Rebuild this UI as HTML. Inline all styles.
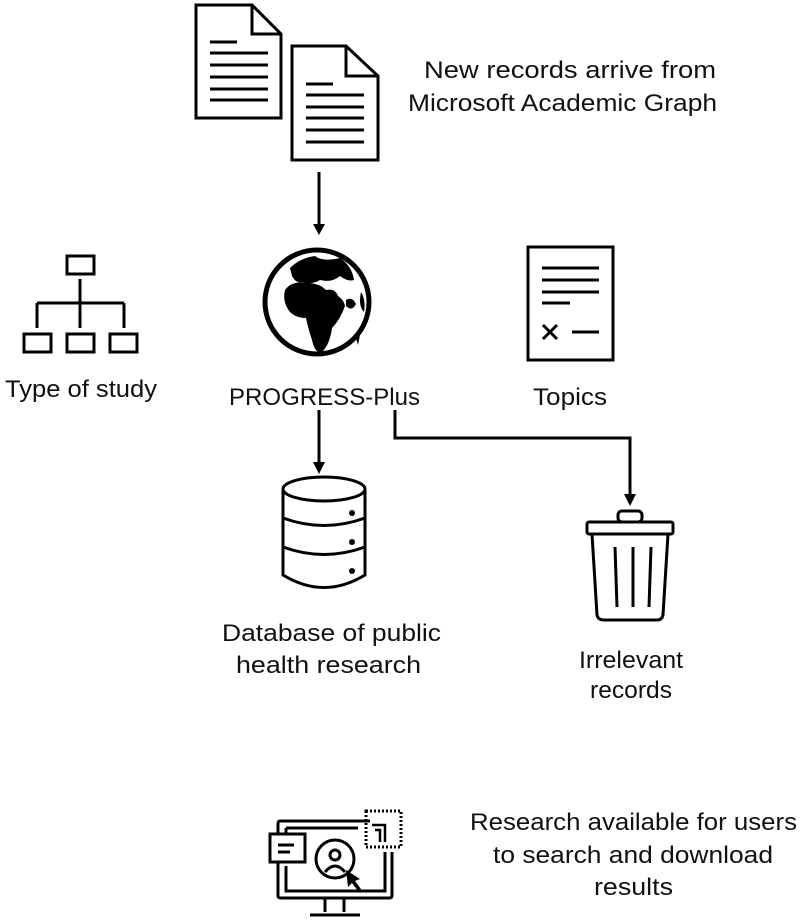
<!DOCTYPE html>
<html><head><style>
html,body{margin:0;padding:0;background:#fff;}
svg{display:block;}
text{font-family:"Liberation Sans",sans-serif;font-size:24px;fill:#111;}
</style></head><body>
<svg width="800" height="922" viewBox="0 0 800 922" xmlns="http://www.w3.org/2000/svg">
<g fill="none" stroke="#000" stroke-width="3">
<!-- doc1 -->
<path d="M196,5 H252 L281,34 V118 H196 Z"/><path d="M252,5 V34 H281"/>
<path d="M210,42 H237 M210,53 H268 M210,65 H268 M210,77 H268 M210,89 H268 M210,100 H268"/>
<!-- doc2 -->
<path d="M292,46 H346 L378,76 V160 H292 Z"/><path d="M346,46 V76 H378"/>
<path d="M306,84 H333 M306,95 H364 M306,107 H364 M306,118 H364 M306,130 H364 M306,142 H364"/>
<!-- arrows -->
<line x1="319" y1="172" x2="319" y2="225"/>
<line x1="319" y1="410" x2="319" y2="463"/>
<polyline points="395,410 395,438 630,438 630,495"/>
<!-- globe -->
<circle cx="317" cy="302" r="52" stroke-width="5"/>
<!-- topics doc -->
<rect x="528" y="247" width="85" height="113"/>
<path d="M542,268 H599 M542,280 H599 M542,292 H599 M542,303 H570 M572,332 H599"/>
<path d="M543,325 L557,339 M557,325 L543,339"/>
<!-- hierarchy -->
<rect x="67" y="256" width="27" height="18"/>
<path d="M80,279 V328 M37,303 H124 M37,303 V328 M124,303 V328"/>
<rect x="24" y="334" width="27" height="18"/><rect x="67" y="334" width="27" height="18"/><rect x="110" y="334" width="27" height="18"/>
<!-- database -->
<path d="M283,490 V575 Q324,600 365,575 V490"/>
<ellipse cx="324" cy="489" rx="41" ry="12"/>
<path d="M283,518 Q324,533 365,518 M283,547 Q324,562 365,547"/>
<!-- trash -->
<rect x="587" y="522" width="86" height="12" rx="2"/>
<rect x="618" y="511" width="24" height="11" rx="4"/>
<path d="M592,534 L597,615 Q598,620 604,620 H657 Q662,620 663,615 L668,534"/>
<path d="M615,547 L617,607 M633,547 V607 M651,547 L649,607"/>
<!-- monitor -->
<path d="M370,821 H280 Q278,821 278,824 V896 Q278,898 281,898 H389 Q392,898 392,896 V852"/>
<path d="M286,828 H358 M286,828 V850 M286,866 V891 H385 V852"/>
<rect x="270" y="834" width="35" height="28" fill="#fff"/>
<path d="M278,845 H294 M278,852 H290"/>
<circle cx="335" cy="859" r="19"/>
<circle cx="335" cy="855" r="5"/>
<path d="M325,872 Q335,860 345,872"/>
<path d="M325,898 V912 M344,898 V912 M310,915 H360"/>
<rect x="366" y="811" width="35" height="36" stroke-dasharray="2,2"/>
<path d="M372,825 H385 V842 M375,830 H380 V842" stroke-width="2.5"/>
</g>
<g fill="#000">
<!-- arrowheads -->
<path d="M313,224 H325 L319,235 Z"/>
<path d="M313,462 H325 L319,474 Z"/>
<path d="M624,494 H636 L630,506 Z"/>
<!-- db dots -->
<circle cx="352" cy="513" r="3"/><circle cx="352" cy="542" r="3"/><circle cx="352" cy="571" r="3"/>
<!-- globe landmass -->
<path d="M290,268 Q300,258 315,256 Q322,262 340,258 Q352,266 354,280 Q348,282 340,276 Q332,283 320,280 Q312,285 303,282 Q296,284 292,276 Z"/>
<path d="M285,290 Q292,280 310,283 Q320,284 326,290 Q335,288 338,296 Q344,300 345,306 Q340,320 332,328 Q330,344 322,352 Q315,354 312,340 Q308,328 306,318 Q296,318 290,312 Q282,302 285,290 Z"/>
<path d="M346,300 Q352,296 356,304 Q352,312 346,306 Z"/>
<path d="M361,292 Q366,300 364,312 Q358,306 361,292 Z"/>
<path d="M355,335 L361,330 L358,345 Z"/>
<path d="M346,870 L360,879 L355,881 L361,889 L358,891 L352,883 L348,887 Z"/>
</g>
<text x="424" y="78" textLength="292" lengthAdjust="spacingAndGlyphs">New records arrive from</text>
<text x="408" y="111" textLength="309" lengthAdjust="spacingAndGlyphs">Microsoft Academic Graph</text>
<text x="5" y="397" textLength="152" lengthAdjust="spacingAndGlyphs">Type of study</text>
<text x="229" y="405" textLength="191" lengthAdjust="spacingAndGlyphs">PROGRESS-Plus</text>
<text x="533" y="405" textLength="74" lengthAdjust="spacingAndGlyphs">Topics</text>
<text x="222" y="641" textLength="219" lengthAdjust="spacingAndGlyphs">Database of public</text>
<text x="236" y="673" textLength="185" lengthAdjust="spacingAndGlyphs">health research</text>
<text x="579" y="668" textLength="104" lengthAdjust="spacingAndGlyphs">Irrelevant</text>
<text x="590" y="698" textLength="82" lengthAdjust="spacingAndGlyphs">records</text>
<text x="470" y="830" textLength="327" lengthAdjust="spacingAndGlyphs">Research available for users</text>
<text x="493" y="863" textLength="280" lengthAdjust="spacingAndGlyphs">to search and download</text>
<text x="594" y="895" textLength="79" lengthAdjust="spacingAndGlyphs">results</text>
</svg>
</body></html>
